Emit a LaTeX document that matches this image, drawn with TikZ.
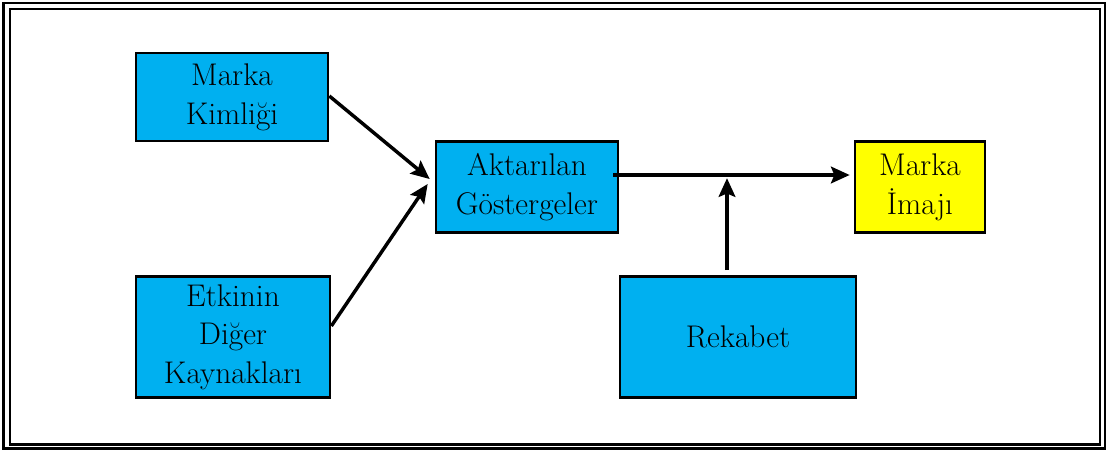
\documentclass[tikz,border=0pt]{standalone}
\usepackage{tikz}
\usetikzlibrary{arrows.meta}
\definecolor{kutumavi}{HTML}{00B0F0}
\definecolor{kutusari}{HTML}{FFFF00}

\begin{document}
\begin{tikzpicture}[x=0.75pt,y=-0.75pt,
    kutu/.style={draw,line width=2pt,fill=kutumavi,align=center,inner sep=0pt,
        font=\fontsize{23.5}{29}\selectfont},
    ok/.style={line width=2.6pt,-{Stealth[length=14pt,width=12.5pt,inset=2.5pt]}}]
    \useasboundingbox (0,0) rectangle (1108,451);

    % cerceve
    \draw[line width=1.7pt] (3.5,3) rectangle (1105,448.5);
    \draw[line width=1.7pt] (10,9) rectangle (1100,444.5);

    \node[kutu,minimum width=144pt,minimum height=66pt] (kimlik) at (232,97) {Marka\\Kimliği};
    \node[kutu,minimum width=145.5pt,minimum height=90.75pt] (diger) at (233,337) {Etkinin\\Diğer\\Kaynakları};
    \node[kutu,minimum width=136.5pt,minimum height=68.25pt] (gosterge) at (527,187) {Aktarılan\\Göstergeler};
    \node[kutu,fill=kutusari,minimum width=97.5pt,minimum height=68.25pt] (imaj) at (920,187) {Marka\\İmajı};
    \node[kutu,minimum width=177pt,minimum height=90.75pt] (rekabet) at (738,337) {Rekabet};

    %\node[draw] at (527,187) {};
    \draw[ok] ([yshift=0.75pt]kimlik.east) -- ([shift={(-5,-8)}]gosterge.west);
    \draw[ok] ([shift={(0,-11)}]diger.east) -- ([shift={(-7,-3)}]gosterge.west);
    \draw[ok] ([shift={(-6,-12)}]gosterge.east) -- ([shift={(-4,-12)}]imaj.west);
    \draw[ok] ([shift={(-11,-5)}]rekabet.north) -- ([shift={(-11,-97)}]rekabet.north);
\end{tikzpicture}
\end{document}
